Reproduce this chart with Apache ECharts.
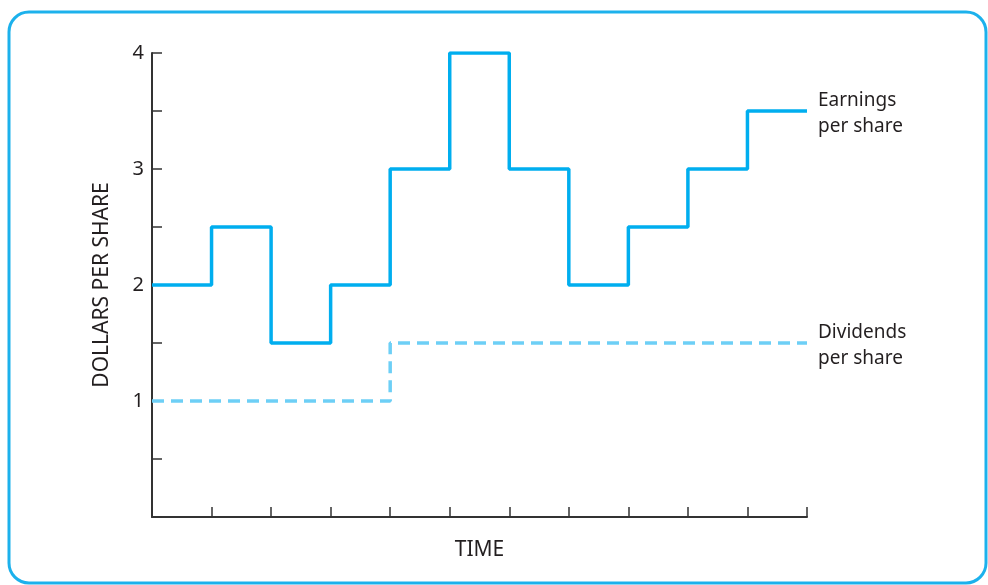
<!DOCTYPE html>
<html>
<head>
<meta charset="utf-8">
<script src="https://cdn.jsdelivr.net/npm/echarts@6/dist/echarts.min.js"></script>
<style>
  html, body { margin: 0; padding: 0; background: #fff; }
  #chart { width: 988px; height: 585px; }
</style>
</head>
<body>
<div id="chart"></div>
<script>
// time periods (step edges) and values per period
const periods = [0, 1, 2, 3, 4, 5, 6, 7, 8, 9, 10, 11];
const earnings = [2, 2.5, 1.5, 2, 3, 4, 3, 2, 2.5, 3, 3.5];
const dividends = [1, 1, 1, 1, 1.5, 1.5, 1.5, 1.5, 1.5, 1.5, 1.5];
const yTicks = [1, 2, 3, 4];

const font = '"Noto Sans", sans-serif';
const textColor = '#231f20';

// add a closing point so the last step is drawn to the end
function toSteps(vals) {
  const pts = vals.map((v, i) => [periods[i], v]);
  pts.push([periods[vals.length], vals[vals.length - 1]]);
  return pts;
}

const chart = echarts.init(document.getElementById('chart'));
chart.setOption({
  animation: false,
  backgroundColor: '#fff',
  grid: { left: 152, right: 181, top: 53, bottom: 68 },
  graphic: [{
    type: 'rect',
    shape: { x: 9, y: 12, width: 977, height: 571, r: 20 },
    style: { fill: 'none', stroke: '#1cb1ec', lineWidth: 3 },
    silent: true
  }],
  xAxis: {
    type: 'value',
    min: 0, max: 11, interval: 1,
    name: 'TIME',
    nameLocation: 'middle',
    nameGap: 23,
    nameTextStyle: { color: textColor, fontSize: 21, fontFamily: font },
    axisLine: { lineStyle: { color: '#333', width: 2 } },
    axisTick: { inside: true, length: 10, lineStyle: { color: '#333', width: 1.5 } },
    axisLabel: { show: false },
    splitLine: { show: false }
  },
  yAxis: {
    type: 'value',
    min: 0, max: 4, interval: 0.5,
    name: 'DOLLARS PER SHARE',
    nameLocation: 'middle',
    nameRotate: 90,
    nameGap: 39,
    nameTextStyle: { color: textColor, fontSize: 21, fontFamily: font },
    axisLine: { show: true, lineStyle: { color: '#333', width: 2 } },
    axisTick: { inside: true, length: 10, lineStyle: { color: '#333', width: 1.5 } },
    axisLabel: {
      color: textColor, fontSize: 20, fontFamily: font, margin: 8,
      formatter: v => (yTicks.indexOf(v) >= 0 ? String(v) : '')
    },
    splitLine: { show: false }
  },
  series: [{
    type: 'line',
    step: 'end',
    data: toSteps(earnings),
    symbol: 'none',
    lineStyle: { color: '#00aeef', width: 3.5 },
    endLabel: {
      show: true,
      formatter: 'Earnings\nper share',
      color: textColor, fontSize: 19, lineHeight: 26, fontFamily: font,
      distance: 11, align: 'left', offset: [0, 3]
    }
  }, {
    type: 'line',
    step: 'end',
    data: toSteps(dividends),
    symbol: 'none',
    lineStyle: { color: '#6dcff6', width: 3.5, type: [12, 7] },
    endLabel: {
      show: true,
      formatter: 'Dividends\nper share',
      color: textColor, fontSize: 19, lineHeight: 26, fontFamily: font,
      distance: 11, align: 'left', offset: [0, 3]
    }
  }]
});
</script>
</body>
</html>
